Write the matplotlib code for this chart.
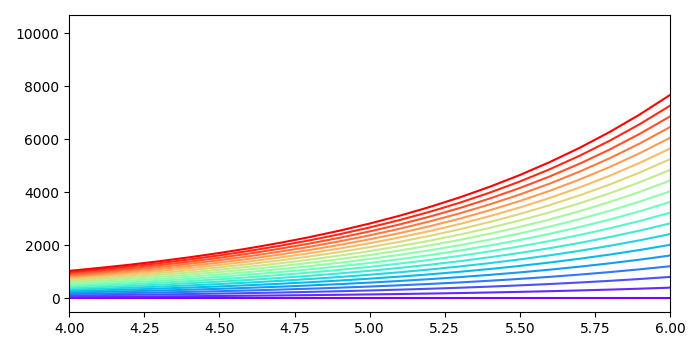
import matplotlib
matplotlib.use("Agg")
import matplotlib.pyplot as plt
import numpy as np

# x positions where the top curve was read
x = [4.0, 4.1, 4.2, 4.3, 4.4, 4.5, 4.6, 4.7, 4.8, 4.9, 5.0,
     5.1, 5.2, 5.3, 5.4, 5.5, 5.6, 5.7, 5.8, 5.9, 6.0]
# top (red) curve values
top = [1037, 1147, 1267, 1400, 1548, 1710, 1890, 2089, 2309, 2552, 2820,
       3116, 3444, 3806, 4207, 4649, 5138, 5679, 6276, 6936, 7665]
# value of each line at x = 6, bottom (purple) to top (red)
end_vals = [0, 403, 807, 1210, 1614, 2017, 2421, 2824, 3227, 3631,
            4034, 4438, 4841, 5245, 5648, 6051, 6455, 6858, 7262, 7665]

fig, ax = plt.subplots(figsize=(7, 3.5), dpi=100)
colors = plt.cm.rainbow(np.linspace(0, 1, len(end_vals)))
top_arr = np.array(top, dtype=float)
for v, c in zip(end_vals, colors):
    ax.plot(x, top_arr * v / top[-1], color=c)

ax.set_xlim(4, 6)
ax.set_ylim(-509, 10683)
ax.set_xticks([4.0, 4.25, 4.5, 4.75, 5.0, 5.25, 5.5, 5.75, 6.0])
fig.subplots_adjust(left=0.099, right=0.957, top=0.957, bottom=0.109)
fig.savefig("out.png")
